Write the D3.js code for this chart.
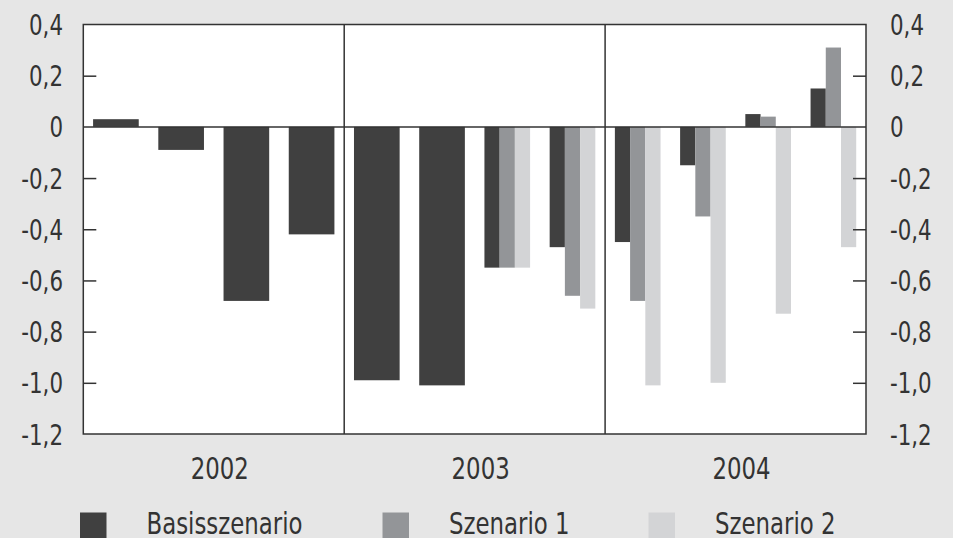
<!DOCTYPE html>
<html>
<head>
<meta charset="utf-8">
<script src="https://cdn.jsdelivr.net/npm/d3@7"></script>
<style>
  body { margin: 0; background: #e6e6e6; }
  text { font-family: "DejaVu Sans Condensed", "Liberation Sans Narrow", sans-serif; fill: #333; }
</style>
</head>
<body>
<div id="chart"></div>
<script>
// quarters 2002 Q1 .. 2004 Q4
var quarters = ['2002Q1', '2002Q2', '2002Q3', '2002Q4',
                '2003Q1', '2003Q2', '2003Q3', '2003Q4',
                '2004Q1', '2004Q2', '2004Q3', '2004Q4'];
var years = ['2002', '2003', '2004'];

var basis     = [0.03, -0.09, -0.68, -0.42, -0.99, -1.01, -0.55, -0.47, -0.45, -0.15, 0.05, 0.15];
var szenario1 = [null, null, null, null, null, null, -0.55, -0.66, -0.68, -0.35, 0.04, 0.31];
var szenario2 = [null, null, null, null, null, null, -0.55, -0.71, -1.01, -1.00, -0.73, -0.47];

var seriesNames = ['Basisszenario', 'Szenario 1', 'Szenario 2'];
var yTicks = [0.4, 0.2, 0, -0.2, -0.4, -0.6, -0.8, -1.0, -1.2];

var colors = ['#404040', '#939598', '#d3d4d6'];
var width = 953, height = 538;
var mLeft = 83.3, mRight = 866, mTop = 24.5, mBottom = 434;

var svg = d3.select('#chart').append('svg')
    .attr('width', width)
    .attr('height', height);

svg.append('rect')
    .attr('width', width).attr('height', height)
    .attr('fill', '#e6e6e6');

var x = d3.scaleBand()
    .domain(quarters)
    .range([mLeft, mRight])
    .paddingInner(0.3)
    .paddingOuter(0.15);

var xYear = d3.scaleBand()
    .domain(years)
    .range([mLeft, mRight]);

var y = d3.scaleLinear()
    .domain([-1.2, 0.4])
    .range([mBottom, mTop]);

var fmt = function (d) { return d === 0 ? '0' : d3.format('.1f')(d).replace('.', ',').replace('−', '-'); };

// narrow text: condensed font squeezed horizontally
function label(tx, ty, str, size, anchor) {
    return svg.append('text')
        .attr('transform', 'translate(' + tx + ',' + ty + ') scale(0.82,1)')
        .attr('text-anchor', anchor || 'start')
        .style('font-size', size + 'px')
        .text(str);
}

// plot area
svg.append('rect')
    .attr('x', mLeft).attr('y', mTop)
    .attr('width', mRight - mLeft).attr('height', mBottom - mTop)
    .attr('fill', '#fff');

// bars
var all = [basis, szenario1, szenario2];
quarters.forEach(function (q, i) {
    var present = all.map(function (s, k) { return { k: k, v: s[i] }; })
        .filter(function (d) { return d.v !== null; });
    var sub = d3.scaleBand()
        .domain(present.map(function (d) { return d.k; }))
        .range([x(q), x(q) + x.bandwidth()]);
    present.forEach(function (d) {
        svg.append('rect')
            .attr('x', sub(d.k))
            .attr('width', sub.bandwidth())
            .attr('y', y(Math.max(0, d.v)))
            .attr('height', Math.abs(y(d.v) - y(0)))
            .attr('fill', colors[d.k]);
    });
});

// zero line
svg.append('line')
    .attr('x1', mLeft).attr('x2', mRight)
    .attr('y1', y(0)).attr('y2', y(0))
    .style('stroke', '#333').style('stroke-width', '1.5px');

// year dividers
years.slice(1).forEach(function (yr) {
    svg.append('line')
        .attr('x1', xYear(yr)).attr('x2', xYear(yr))
        .attr('y1', mTop).attr('y2', mBottom)
        .style('stroke', '#333').style('stroke-width', '1.5px');
});

// frame
svg.append('rect')
    .attr('x', mLeft).attr('y', mTop)
    .attr('width', mRight - mLeft).attr('height', mBottom - mTop)
    .attr('fill', 'none')
    .style('stroke', '#333').style('stroke-width', '1.5px');

// y axes (inner ticks on both sides)
var inner = yTicks.filter(function (d) { return d !== 0.4 && d !== -1.2 && d !== 0; });
var leftAxis = d3.axisRight(y).tickValues(inner).tickSize(13).tickFormat('');
var rightAxis = d3.axisLeft(y).tickValues(inner).tickSize(13).tickFormat('');

svg.append('g').attr('transform', 'translate(' + mLeft + ',0)').call(leftAxis)
    .call(function (g) { g.select('.domain').remove(); })
    .selectAll('line').style('stroke', '#333').style('stroke-width', '1.5px');
svg.append('g').attr('transform', 'translate(' + mRight + ',0)').call(rightAxis)
    .call(function (g) { g.select('.domain').remove(); })
    .selectAll('line').style('stroke', '#333').style('stroke-width', '1.5px');

// tick labels
yTicks.forEach(function (t) {
    label(63, y(t) + 10.5, fmt(t), 29, 'end');
    label(890, y(t) + 10.5, fmt(t), 29, 'start');
});

// year labels
years.forEach(function (yr) {
    label(xYear(yr) + xYear.bandwidth() / 2 + 6, 479, yr, 31, 'middle');
});

// legend
var legendX = [80, 382.5, 648.5];
seriesNames.forEach(function (name, k) {
    svg.append('rect')
        .attr('x', legendX[k]).attr('y', 512.5)
        .attr('width', 26.5).attr('height', 26.5)
        .attr('fill', colors[k]);
    label(legendX[k] + 66.5, 534, name, 31, 'start');
});
</script>
</body>
</html>
